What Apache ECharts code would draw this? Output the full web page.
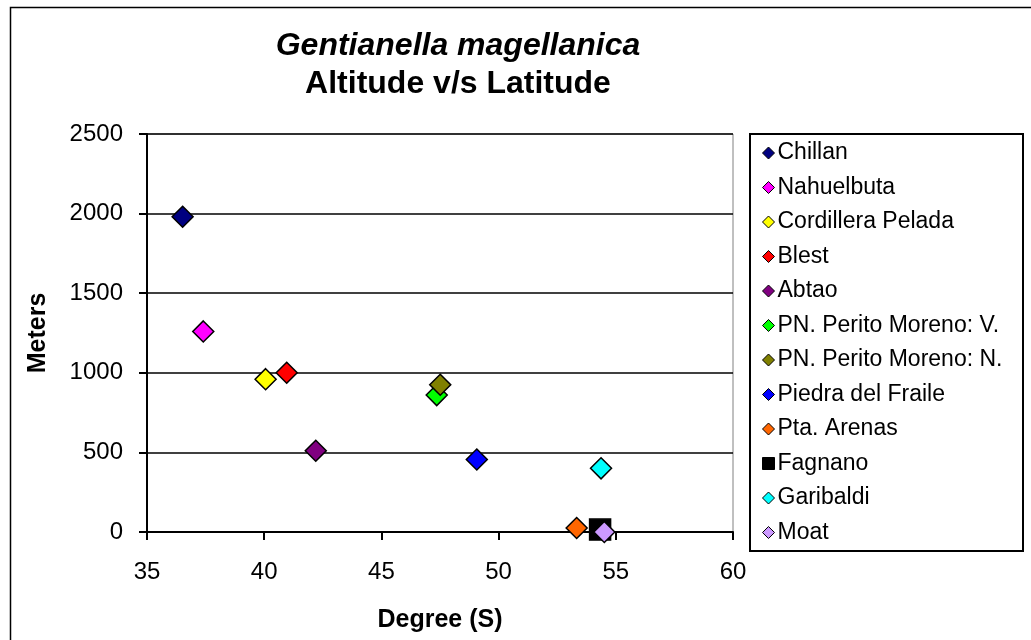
<!DOCTYPE html>
<html>
<head>
<meta charset="utf-8">
<script src="https://cdn.jsdelivr.net/npm/echarts@6/dist/echarts.min.js"></script>
<style>
html,body{margin:0;padding:0;background:#fff;}
#chart{width:1031px;height:640px;}
</style>
</head>
<body>
<div id="chart"></div>
<script>
const sites = ['Chillan','Nahuelbuta','Cordillera Pelada','Blest','Abtao','PN. Perito Moreno: V.','PN. Perito Moreno: N.','Piedra del Fraile','Pta. Arenas','Fagnano','Garibaldi','Moat'];
const latitudes = [36.52, 37.40, 40.06, 40.96, 42.20, 47.36, 47.51, 49.07, 53.33, 54.33, 54.37, 54.51];
const altitudes = [1980, 1260, 960, 1000, 510, 860, 925, 455, 25, 15, 400, 0];
const colors = ['#000080','#FF00FF','#FFFF00','#FF0000','#800080','#00FF00','#808000','#0000FF','#FF6600','#000000','#00FFFF','#CC99FF'];
const symbols = ['diamond','diamond','diamond','diamond','diamond','diamond','diamond','diamond','diamond','rect','diamond','diamond'];
const xTicks = [35, 40, 45, 50, 55, 60];
const yTicks = [0, 500, 1000, 1500, 2000, 2500];
const titleLine1 = 'Gentianella magellanica';
const titleLine2 = 'Altitude v/s Latitude';
const xName = 'Degree (S)';
const yName = 'Meters';

const FONT = "'Liberation Sans', Arial, sans-serif";
const chart = echarts.init(document.getElementById('chart'), null, {renderer:'canvas'});

const series = sites.map((name, i) => ({
  name: name,
  type: 'scatter',
  symbol: symbols[i],
  symbolSize: 21,
  itemStyle: {color: colors[i], borderColor: '#000', borderWidth: 1.5, opacity: 1},
  emphasis: {disabled: true},
  data: [[latitudes[i], altitudes[i]]],
  z: 3 + i
}));

chart.setOption({
  animation: false,
  backgroundColor: '#fff',
  textStyle: {fontFamily: FONT},
  grid: {left: 147, right: 298, top: 134, bottom: 108, show: true, borderColor: '#808080', borderWidth: 1, backgroundColor: '#fff'},
  xAxis: {
    type: 'value', min: xTicks[0], max: xTicks[xTicks.length-1], interval: 5,
    name: xName, nameLocation: 'middle', nameGap: 76,
    nameTextStyle: {fontFamily: FONT, fontSize: 25, fontWeight: 'bold', color: '#000'},
    axisLine: {show: true, onZero: false, lineStyle: {color: '#000', width: 2}},
    axisTick: {show: true, inside: false, length: 8, lineStyle: {color: '#000', width: 2}},
    axisLabel: {fontFamily: FONT, fontSize: 24, color: '#000', margin: 28, formatter: v => String(v)},
    splitLine: {show: false}
  },
  yAxis: {
    type: 'value', min: yTicks[0], max: yTicks[yTicks.length-1], interval: 500,
    name: yName, nameLocation: 'middle', nameGap: 96, nameRotate: 90,
    nameTextStyle: {fontFamily: FONT, fontSize: 25, fontWeight: 'bold', color: '#000'},
    axisLine: {show: true, onZero: false, lineStyle: {color: '#000', width: 2}},
    axisTick: {show: true, inside: false, length: 8, lineStyle: {color: '#000', width: 2}},
    axisLabel: {fontFamily: FONT, fontSize: 24, color: '#000', margin: 24, formatter: v => String(v)},
    splitLine: {show: true, lineStyle: {color: '#000', width: 1.5}}
  },
  legend: {
    orient: 'vertical', left: 758, top: 134, padding: [7, 4, 6, 4],
    itemWidth: 12, itemHeight: 12, itemGap: 10.5,
    selectedMode: false,
    textStyle: {fontFamily: FONT, fontSize: 23, color: '#000', lineHeight: 24, padding: [0,0,0,-2]},
    data: sites.map((n, i) => ({name: n, icon: symbols[i], itemStyle: {color: colors[i], borderColor: '#000', borderWidth: 1}}))
  },
  graphic: [
    {type: 'rect', left: 8, top: 5, shape: {width: 1040, height: 650}, style: {fill: 'none', stroke: '#000', lineWidth: 1.5}, silent: true, z: -10},
    {type: 'rect', shape: {x: 750, y: 134, width: 273, height: 417}, style: {fill: 'none', stroke: '#000', lineWidth: 2}, silent: true, z: 10},
    {type: 'text', x: 458, y: 46, style: {text: titleLine1, font: "italic bold 32px 'Liberation Sans', Arial, sans-serif", fill: '#000', textAlign: 'center', textVerticalAlign: 'middle'}, silent: true},
    {type: 'text', x: 458, y: 84, style: {text: titleLine2, font: "bold 32px 'Liberation Sans', Arial, sans-serif", fill: '#000', textAlign: 'center', textVerticalAlign: 'middle'}, silent: true}
  ],
  series: series
});
</script>
</body>
</html>
